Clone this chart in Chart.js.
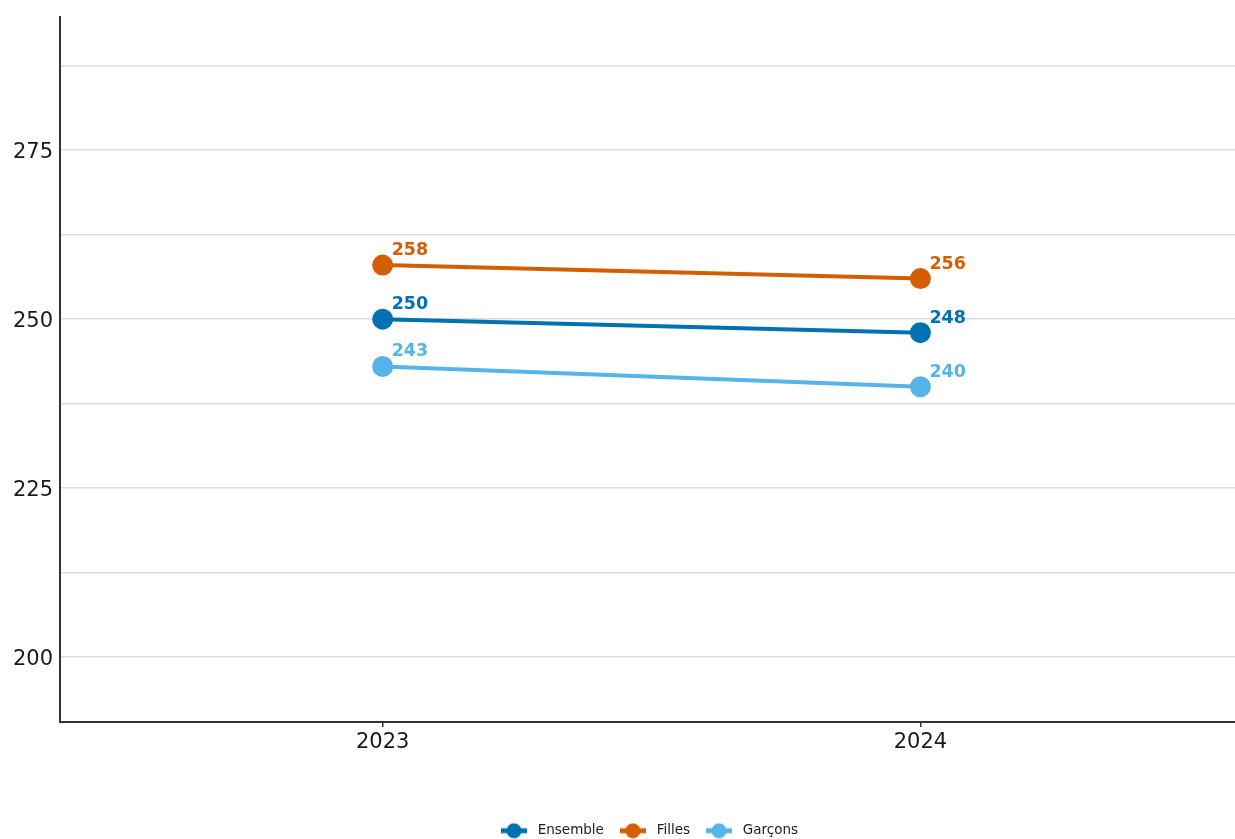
<!DOCTYPE html>
<html>
<head>
<meta charset="utf-8">
<script src="https://cdn.jsdelivr.net/npm/chart.js@4"></script>
<style>
  html, body { margin: 0; padding: 0; background: #fff; overflow: hidden; }
  #wrap { width: 1235px; height: 839px; }
</style>
</head>
<body>
<div id="wrap"><canvas id="chart"></canvas></div>
<script>
const YEARS = [2023, 2024];
const ENSEMBLE = [250, 248];
const FILLES = [258, 256];
const GARCONS = [243, 240];
const SERIES_NAMES = ["Ensemble", "Filles", "Garçons"];
const COLORS = ["#0072B2", "#D55E00", "#56B4E9"];
const Y_TICKS = [200, 212.5, 225, 237.5, 250, 262.5, 275, 287.5];

const FONT = "'DejaVu Sans', sans-serif";

// legend key: line with a dot, like the original
function legendKey(color) {
  const c = document.createElement("canvas");
  c.width = 26;
  c.height = 16;
  const ctx = c.getContext("2d");
  ctx.strokeStyle = color;
  ctx.lineWidth = 5;
  ctx.beginPath();
  ctx.moveTo(0, 8);
  ctx.lineTo(26, 8);
  ctx.stroke();
  ctx.fillStyle = color;
  ctx.beginPath();
  ctx.arc(13, 8, 7.5, 0, Math.PI * 2);
  ctx.fill();
  return c;
}

const valueLabels = {
  id: "valueLabels",
  afterDatasetsDraw(chart) {
    const ctx = chart.ctx;
    ctx.save();
    ctx.font = "bold 17.5px " + FONT;
    ctx.textAlign = "left";
    ctx.textBaseline = "alphabetic";
    chart.data.datasets.forEach((ds, i) => {
      chart.getDatasetMeta(i).data.forEach((pt, j) => {
        ctx.fillStyle = ds.borderColor;
        ctx.fillText(String(ds.data[j].y), pt.x + 9, pt.y - 10);
      });
    });
    ctx.restore();
  },
};

const seriesValues = [ENSEMBLE, FILLES, GARCONS];

new Chart(document.getElementById("chart"), {
  type: "line",
  data: {
    datasets: SERIES_NAMES.map((name, i) => ({
      label: name,
      data: YEARS.map((yr, j) => ({ x: yr, y: seriesValues[i][j] })),
      borderColor: COLORS[i],
      backgroundColor: COLORS[i],
      borderWidth: 4,
      pointRadius: 8.5,
      pointHoverRadius: 8.5,
      pointStyle: "circle",
    })),
  },
  options: {
    responsive: true,
    maintainAspectRatio: false,
    animation: false,
    layout: { autoPadding: false, padding: { top: 17, right: 0, left: 0, bottom: 0 } },
    plugins: {
      tooltip: { enabled: false },
      legend: {
        position: "bottom",
        fullSize: false,
        maxHeight: 27,
        labels: {
          font: { family: FONT, size: 13.5 },
          color: "#222",
          usePointStyle: true,
          pointStyleWidth: 34,
          generateLabels(chart) {
            return chart.data.datasets.map((ds, i) => ({
              text: ds.label,
              pointStyle: legendKey(COLORS[i]),
              fillStyle: COLORS[i],
              strokeStyle: COLORS[i],
              fontColor: "#222",
              lineWidth: 0,
              datasetIndex: i,
            }));
          },
          padding: 12,
        },
      },
    },
    scales: {
      x: {
        type: "linear",
        min: 2022.4,
        max: 2024.585,
        afterBuildTicks(scale) {
          scale.ticks = YEARS.map((v) => ({ value: v }));
        },
        afterFit(scale) {
          scale.height = 90;
        },
        ticks: {
          font: { family: FONT, size: 21 },
          color: "#1a1a1a",
          padding: 3,
          callback: (v) => String(v),
        },
        grid: {
          drawOnChartArea: false,
          drawTicks: true,
          tickLength: 5,
          color: "#333",
          lineWidth: 1.5,
        },
        border: { color: "#333", width: 2 },
      },
      y: {
        min: 190.4,
        max: 294.7,
        afterBuildTicks(scale) {
          scale.ticks = Y_TICKS.map((v) => ({ value: v }));
        },
        afterFit(scale) {
          scale.width = 60;
          scale.paddingTop = 0;
          scale.paddingBottom = 0;
        },
        ticks: {
          font: { family: FONT, size: 21 },
          color: "#1a1a1a",
          padding: 7,
          labelOffset: 2,
          callback: (v) => (v % 25 === 0 ? String(v) : ""),
        },
        grid: {
          color: "#dcdcdc",
          lineWidth: 1.5,
          drawTicks: false,
        },
        border: { color: "#333", width: 2 },
      },
    },
  },
  plugins: [valueLabels],
});
</script>
</body>
</html>
